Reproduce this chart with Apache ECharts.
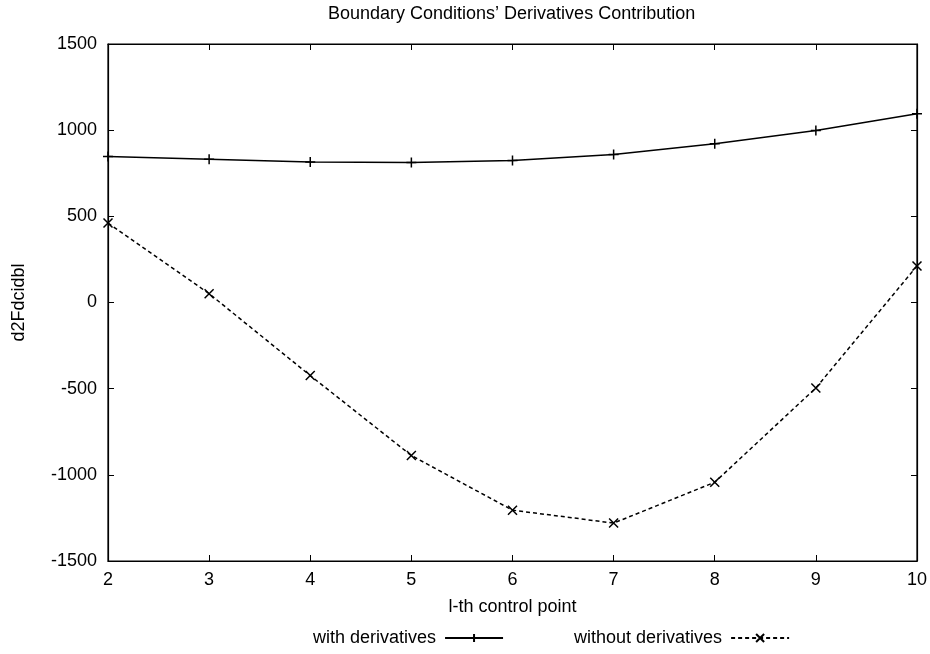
<!DOCTYPE html>
<html>
<head>
<meta charset="utf-8">
<script src="https://cdn.jsdelivr.net/npm/echarts@6/dist/echarts.min.js"></script>
<style>
  html, body { margin: 0; padding: 0; background: #fff; }
  #chart { width: 930px; height: 654px; }
</style>
</head>
<body>
<div id="chart"></div>
<script>
// Control point indices along the horizontal axis
var controlPoints = [2, 3, 4, 5, 6, 7, 8, 9, 10];
// Second derivative values with and without the boundary derivative terms
var withDerivatives = [847, 831, 815, 812, 824, 859, 921, 998, 1095];
var withoutDerivatives = [461, 51, -424, -888, -1205, -1280, -1043, -496, 212];
// Axis ranges and tick spacing
var xRange = [2, 10, 1];
var yRange = [-1500, 1500, 500];

var FONT = 'Liberation Sans, Arial, sans-serif';
var FS = 18;
var plusPath = 'path://M5,0L5,10M0,5L10,5';
var crossPath = 'path://M0,0L10,10M10,0L0,10';

function pairs(xs, ys) {
  return xs.map(function (x, i) { return [x, ys[i]]; });
}

var chart = echarts.init(document.getElementById('chart'), null, { renderer: 'canvas' });

var tickStyle = { show: true, inside: true, length: 6, lineStyle: { color: '#000', width: 1 } };
var labelStyle = { color: '#000', fontFamily: FONT, fontSize: FS };
var frameLine = { show: true, onZero: false, lineStyle: { color: '#000', width: 1.2 } };
var plain = function (v) { return String(v); };

chart.setOption({
  animation: false,
  backgroundColor: '#fff',
  title: {
    text: 'Boundary Conditions\u2019 Derivatives Contribution',
    left: 323,
    top: 0,
    textStyle: { color: '#000', fontFamily: FONT, fontSize: FS, fontWeight: 'normal' }
  },
  legend: {
    top: 624,
    left: 308,
    align: 'right',
    itemGap: 70,
    itemWidth: 58,
    itemHeight: 10,
    textStyle: { color: '#000', fontFamily: FONT, fontSize: FS, padding: [0, 4, 0, 0] },
    data: ['with derivatives', 'without derivatives']
  },
  grid: {
    left: 108, right: 8, top: 44, bottom: 93,
    show: true, borderColor: '#000', borderWidth: 1.2, backgroundColor: 'transparent'
  },
  xAxis: [{
    type: 'value',
    min: xRange[0], max: xRange[1], interval: xRange[2],
    position: 'bottom',
    name: 'l-th control point',
    nameLocation: 'middle',
    nameGap: 37,
    nameTextStyle: labelStyle,
    axisLine: frameLine,
    axisTick: tickStyle,
    axisLabel: Object.assign({ margin: 10, formatter: plain }, labelStyle),
    splitLine: { show: false }
  }, {
    type: 'value',
    min: xRange[0], max: xRange[1], interval: xRange[2],
    position: 'top',
    axisLine: frameLine,
    axisTick: tickStyle,
    axisLabel: { show: false },
    splitLine: { show: false }
  }],
  yAxis: [{
    type: 'value',
    min: yRange[0], max: yRange[1], interval: yRange[2],
    position: 'left',
    name: 'd2Fdcidbl',
    nameLocation: 'middle',
    nameGap: 80,
    nameRotate: 90,
    nameTextStyle: labelStyle,
    axisLine: frameLine,
    axisTick: tickStyle,
    axisLabel: Object.assign({ margin: 11, formatter: plain }, labelStyle),
    splitLine: { show: false }
  }, {
    type: 'value',
    min: yRange[0], max: yRange[1], interval: yRange[2],
    position: 'right',
    axisLine: frameLine,
    axisTick: tickStyle,
    axisLabel: { show: false },
    splitLine: { show: false }
  }],
  series: [{
    name: 'with derivatives',
    type: 'line',
    data: pairs(controlPoints, withDerivatives),
    symbol: plusPath,
    symbolSize: 10,
    showAllSymbol: true,
    lineStyle: { color: '#000', width: 1.5, type: 'solid' },
    itemStyle: { color: '#000', borderColor: '#000', borderWidth: 1.5 }
  }, {
    name: 'without derivatives',
    type: 'line',
    data: pairs(controlPoints, withoutDerivatives),
    symbol: crossPath,
    symbolSize: 9,
    showAllSymbol: true,
    lineStyle: { color: '#000', width: 1.5, type: [4, 3] },
    itemStyle: { color: '#000', borderColor: '#000', borderWidth: 1.5 }
  }]
});
</script>
</body>
</html>
